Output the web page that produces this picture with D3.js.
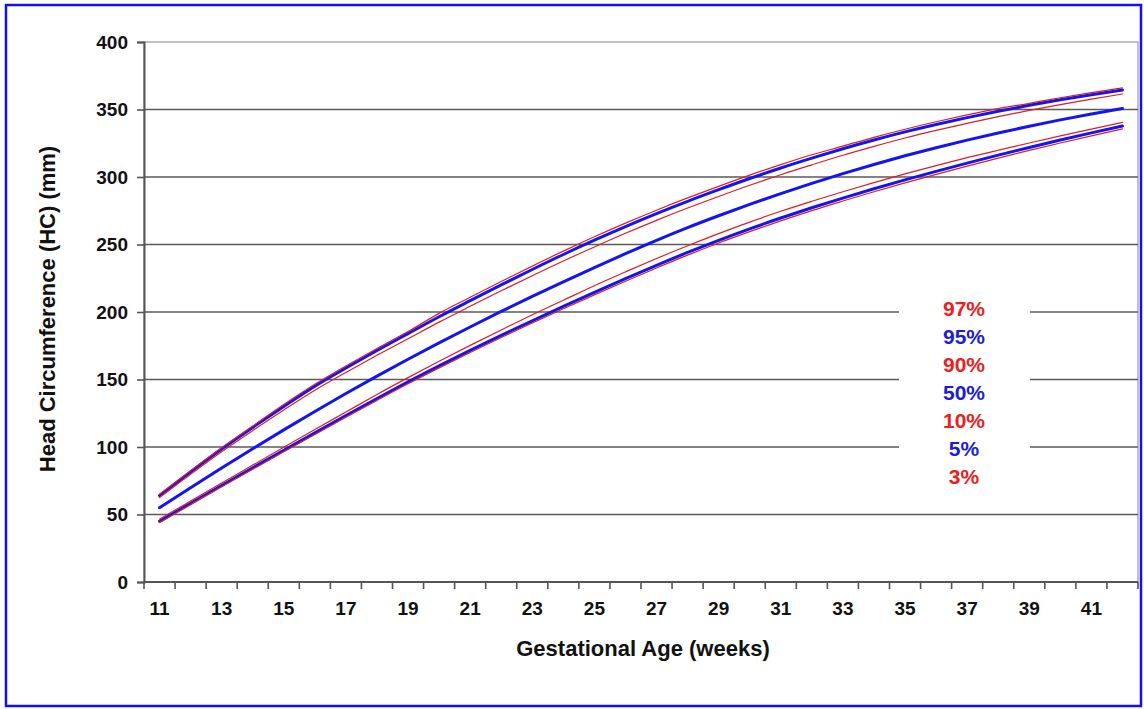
<!DOCTYPE html>
<html>
<head>
<meta charset="utf-8">
<script src="https://cdn.jsdelivr.net/npm/d3@7"></script>
<style>
  body { margin: 0; background: #fff; }
  svg { display: block; font-family: "Liberation Sans", Arial, sans-serif; }
</style>
</head>
<body>
<div id="chart"></div>
<script>
const weeks = d3.range(11, 43);
const weekLabels = [11, 13, 15, 17, 19, 21, 23, 25, 27, 29, 31, 33, 35, 37, 39, 41];
const yTicks = [0, 50, 100, 150, 200, 250, 300, 350, 400];

// head circumference (mm) per week
const p97 = [65, 82.5, 99.5, 115.5, 131.5, 146.5, 160, 173, 185.5, 199, 210.9, 222.6, 234, 245.1, 255.7, 265.8,
  275.4, 284.5, 293.1, 301.4, 309.2, 316.5, 322.9, 329.4, 335.4, 340.9, 346, 350.7, 354.6, 358.7, 362.5, 366];
const p95 = [64, 81.5, 98.5, 114.5, 130, 145, 158.5, 171.5, 184, 196.5, 208.4, 220.1, 231.5, 242.6, 253.2, 263.3,
  272.9, 282, 290.6, 298.9, 306.7, 314, 320.9, 327.4, 333.4, 338.9, 344, 348.7, 353.1, 357.2, 361, 364.5];
const p90 = [62.5, 79.8, 96.5, 112.2, 127.4, 142, 155.2, 167.9, 180.2, 192.5, 204.2, 215.7, 226.9, 237.8, 248.2, 258.3,
  267.9, 277, 285.6, 293.9, 301.7, 309, 316.1, 322.7, 328.9, 334.5, 339.7, 344.7, 349.3, 353.6, 357.7, 361.5];
const p50 = [55, 69.8, 84.4, 98.7, 112.7, 126.3, 139.6, 152.5, 165, 177.1, 188.9, 200.4, 211.5, 222.3, 232.9, 243.2,
  253.1, 262.5, 271.3, 279.7, 287.7, 295.3, 302.5, 309.3, 315.7, 321.7, 327.3, 332.6, 337.6, 342.3, 346.7, 350.8];
const p10 = [46.5, 60, 73.3, 86.6, 99.8, 112.9, 125.9, 138.9, 151.4, 163.5, 175.3, 186.7, 197.9, 208.7, 219.5, 229.7,
  239.6, 249.1, 258.1, 266.6, 274.6, 282, 289.1, 295.8, 302.3, 308.4, 314.3, 319.8, 325.2, 330.4, 335.5, 340.5];
const p5 = [45, 58.3, 71.5, 84.6, 97.6, 110.5, 123.3, 135.9, 148.2, 160.1, 171.6, 182.7, 193.5, 204.1, 214.5, 224.7,
  234.6, 244.1, 253.1, 261.6, 269.6, 277.2, 284.4, 291.3, 297.9, 304.2, 310.3, 316.2, 321.9, 327.4, 332.7, 337.8];
const p3 = [44, 57.3, 70.5, 83.5, 96.5, 109.3, 122, 134.5, 146.8, 158.6, 170, 181.1, 191.8, 202.4, 212.7, 222.8,
  232.6, 242.1, 251.1, 259.5, 267.5, 275.1, 282.2, 289.1, 295.7, 302, 308.1, 314, 319.7, 325.2, 330.5, 335.6];

const series = [
  {name: '95%', values: p95, kind: 'blue'},
  {name: '50%', values: p50, kind: 'blue'},
  {name: '5%', values: p5, kind: 'blue'},
  {name: '97%', values: p97, kind: 'red'},
  {name: '90%', values: p90, kind: 'red'},
  {name: '10%', values: p10, kind: 'red'},
  {name: '3%', values: p3, kind: 'red'}
];
const legendItems = ['97%', '95%', '90%', '50%', '10%', '5%', '3%'];
const legendKinds = ['red', 'blue', 'red', 'blue', 'red', 'blue', 'red'];

const W = 1144, H = 709;
const colors = {blue: '#1414f0', red: '#e41c1c'};
const textColors = {blue: '#1c1cd8', red: '#e82222'};
const plot = {left: 144, right: 1138, top: 42, bottom: 582};

const svg = d3.select('#chart').append('svg')
  .attr('width', W)
  .attr('height', H);

svg.append('rect')
  .attr('x', 6).attr('y', 5)
  .attr('width', 1135).attr('height', 701)
  .attr('fill', '#fff')
  .attr('stroke', '#1010f5')
  .attr('stroke-width', 2.5);

const x = d3.scaleBand()
  .domain(weeks)
  .range([plot.left, plot.right]);

const y = d3.scaleLinear()
  .domain([0, 400])
  .range([plot.bottom, plot.top]);

// plot area border
svg.append('rect')
  .attr('x', plot.left).attr('y', plot.top)
  .attr('width', plot.right - plot.left)
  .attr('height', plot.bottom - plot.top)
  .attr('fill', 'none')
  .attr('stroke', '#9a9a9a')
  .attr('stroke-width', 1.2);

// gridlines
svg.append('g')
  .selectAll('line')
  .data(yTicks.filter(d => d > 0 && d < 400))
  .enter()
  .append('line')
  .attr('x1', plot.left).attr('x2', plot.right)
  .attr('y1', d => y(d)).attr('y2', d => y(d))
  .attr('stroke', '#5a5a5a')
  .attr('stroke-width', 1.6);

// y axis
const yAxis = svg.append('g')
  .attr('transform', `translate(${plot.left},0)`)
  .call(d3.axisLeft(y).tickValues(yTicks).tickSize(7).tickPadding(9));
yAxis.select('.domain').attr('stroke', '#555').attr('stroke-width', 2);
yAxis.selectAll('.tick line').attr('stroke', '#555').attr('stroke-width', 1.6);
yAxis.selectAll('.tick text')
  .attr('fill', '#111')
  .style('font-size', '19px')
  .style('font-weight', 'bold')
  .attr('font-family', null);

// x axis: ticks between the week bands, labels on odd weeks
const xAxis = svg.append('g')
  .attr('transform', `translate(0,${plot.bottom})`);
xAxis.append('line')
  .attr('x1', plot.left).attr('x2', plot.right)
  .attr('stroke', '#555').attr('stroke-width', 2);
xAxis.selectAll('.tk')
  .data(weeks.concat([43]))
  .enter()
  .append('line')
  .attr('class', 'tk')
  .attr('x1', d => d === 43 ? plot.right : x(d))
  .attr('x2', d => d === 43 ? plot.right : x(d))
  .attr('y1', 0).attr('y2', 7)
  .attr('stroke', '#555').attr('stroke-width', 1.6);
xAxis.selectAll('text')
  .data(weekLabels)
  .enter()
  .append('text')
  .attr('x', d => x(d) + x.bandwidth() / 2)
  .attr('y', 33)
  .attr('text-anchor', 'middle')
  .attr('fill', '#111')
  .style('font-size', '19px')
  .style('font-weight', 'bold')
  .text(d => d);

// legend box (white, cuts the gridlines)
svg.append('rect')
  .attr('x', 899).attr('y', 292)
  .attr('width', 131).attr('height', 198)
  .attr('fill', '#fff');

svg.append('g')
  .selectAll('text')
  .data(legendItems)
  .enter()
  .append('text')
  .attr('x', 964)
  .attr('y', (d, i) => 316 + i * 28)
  .attr('text-anchor', 'middle')
  .attr('fill', (d, i) => textColors[legendKinds[i]])
  .style('font-size', '21px')
  .style('font-weight', 'bold')
  .text(d => d);

// percentile curves
const line = d3.line()
  .x((d, i) => x(weeks[i]) + x.bandwidth() / 2)
  .y(d => y(d))
  .curve(d3.curveMonotoneX);

svg.append('g')
  .selectAll('path')
  .data(series)
  .enter()
  .append('path')
  .attr('d', d => line(d.values))
  .attr('fill', 'none')
  .attr('stroke', d => colors[d.kind])
  .attr('stroke-width', d => d.kind === 'blue' ? 3 : 1.2)
  .attr('stroke-linejoin', 'round')
  .attr('stroke-linecap', 'round');

// axis titles
svg.append('text')
  .attr('x', 643).attr('y', 656)
  .attr('text-anchor', 'middle')
  .attr('fill', '#111')
  .style('font-size', '22px')
  .style('font-weight', 'bold')
  .text('Gestational Age (weeks)');

svg.append('text')
  .attr('transform', 'translate(55,309) rotate(-90)')
  .attr('text-anchor', 'middle')
  .attr('fill', '#111')
  .style('font-size', '22px')
  .style('font-weight', 'bold')
  .text('Head Circumference (HC) (mm)');
</script>
</body>
</html>
